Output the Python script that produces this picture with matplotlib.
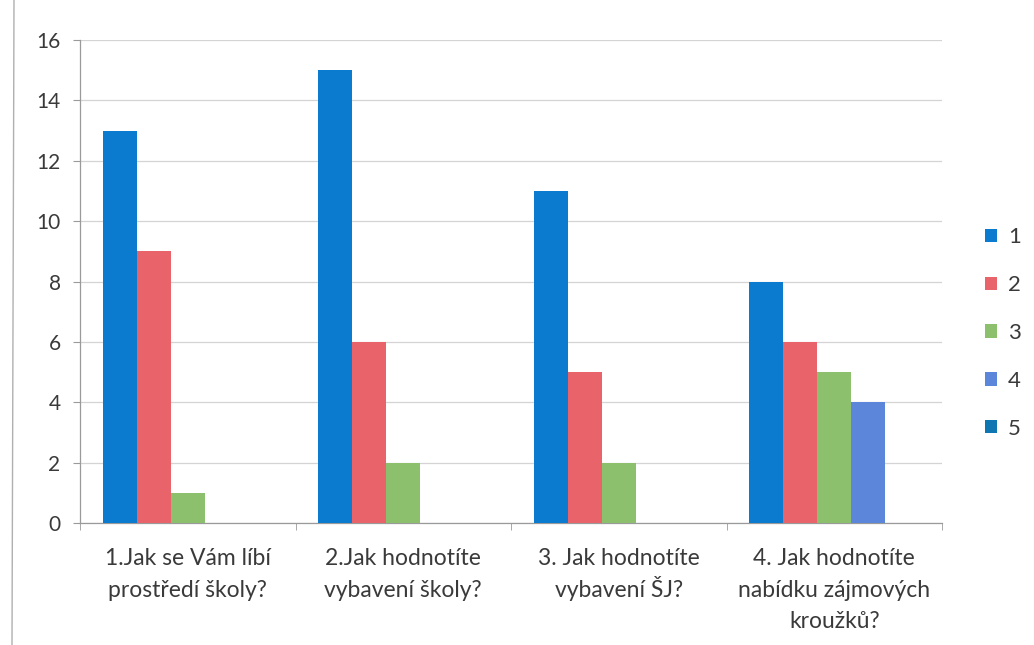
import numpy as np
import matplotlib.pyplot as plt

# survey answers per question (grades 1..5)
categories = [
    "1.Jak se Vám líbí\nprostředí školy?",
    "2.Jak hodnotíte\nvybavení školy?",
    "3. Jak hodnotíte\nvybavení ŠJ?",
    "4. Jak hodnotíte\nnabídku zájmových\nkroužků?",
]
series_names = ["1", "2", "3", "4", "5"]
grade_1 = [13, 15, 11, 8]
grade_2 = [9, 6, 5, 6]
grade_3 = [1, 2, 2, 5]
grade_4 = [0, 0, 0, 4]
grade_5 = [0, 0, 0, 0]
y_ticks = [0, 2, 4, 6, 8, 10, 12, 14, 16]

series = [grade_1, grade_2, grade_3, grade_4, grade_5]
colors = ["#0B7BD0", "#E8646A", "#8DC06C", "#5B86DA", "#0E77B2"]

plt.rcParams['font.family'] = ['Lato', 'DejaVu Sans']
text_col = "#3a3a3a"

fig = plt.figure(figsize=(10.34, 6.45), dpi=100)
ax = fig.add_axes([80 / 1034, 1 - 523 / 645, 862 / 1034, 483 / 645])

x = np.arange(len(categories))
bw = 0.158
for i, (vals, name) in enumerate(zip(series, series_names)):
    ax.bar(x + (i - 2) * bw, vals, width=bw, color=colors[i], label=name, zorder=3)

ax.set_xlim(-0.5, len(categories) - 0.5)
ax.set_ylim(0, 16)
ax.set_yticks(y_ticks)
ax.grid(axis='y', color='#d4d4d4', linewidth=0.9, zorder=0)

# category labels line by line so accented lines keep even spacing
ax.set_xticks(x)
ax.set_xticklabels([])
ax.tick_params(axis='x', length=0)
for xi, label in zip(x, categories):
    for j, line in enumerate(label.split("\n")):
        ax.annotate(line, xy=(xi, 0), xycoords=('data', 'axes fraction'),
                    xytext=(0, -30.5 - j * 22.5), textcoords='offset points',
                    ha='center', va='baseline', fontsize=16.5, color=text_col)
ax.set_xticks(np.arange(len(categories) + 1) - 0.5, minor=True)
ax.tick_params(axis='x', which='minor', length=5, color='#9a9a9a')
ax.tick_params(axis='y', labelsize=15, colors=text_col, length=5, pad=9)
ax.tick_params(axis='y', color='#9a9a9a')

for side in ['top', 'right']:
    ax.spines[side].set_visible(False)
for side in ['left', 'bottom']:
    ax.spines[side].set_color('#9a9a9a')
    ax.spines[side].set_linewidth(0.9)

leg = fig.legend(loc='center right', bbox_to_anchor=(1021 / 1034, 1 - 333 / 645),
                 frameon=False, fontsize=16, handlelength=0.55, handleheight=0.55,
                 labelspacing=1.25, handletextpad=0.5, borderpad=0, borderaxespad=0)
for t in leg.get_texts():
    t.set_color(text_col)

# faint scanned page edge on the left
fig.add_artist(plt.Line2D([14 / 1034, 12 / 1034], [1.0, 0.0], color='#b0b0b0',
                          linewidth=1.0, transform=fig.transFigure))

fig.savefig("out.png", dpi=100)
